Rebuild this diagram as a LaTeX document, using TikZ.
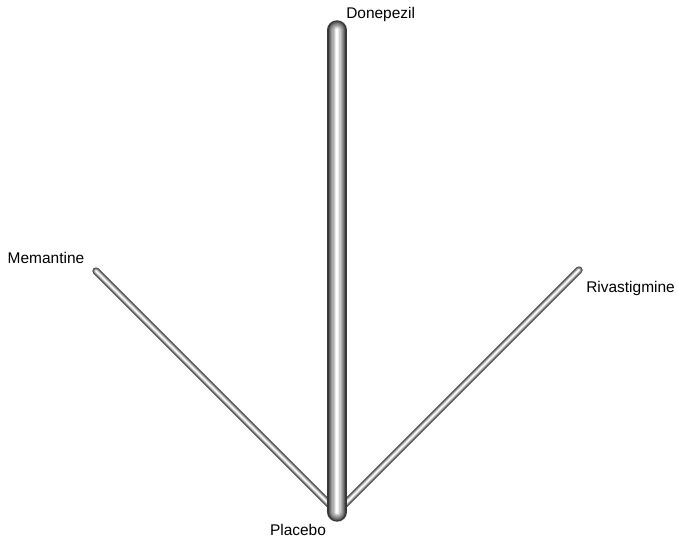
\documentclass[tikz,border=0pt]{standalone}
\usepackage{fontspec}
\setmainfont{Liberation Sans}
\usetikzlibrary{calc}

% one shaded tube between two named points, width in pt
\newcommand\tubeline[3]{%
    \foreach \s/\c in {1/22, 0.86/36, 0.72/48, 0.6/58, 0.48/68, 0.36/80, 0.24/92, 0.12/100}
        \draw[line cap=round, line width=\s*#3, white!\c!black] (#1) -- (#2);
}

\begin{document}
\begin{tikzpicture}[x=0.75pt, y=-0.75pt,
                    trt/.style={font=\fontsize{11.6}{13}\selectfont, inner sep=0pt}]

    \useasboundingbox (0,0) rectangle (678,541);

    \coordinate (pla) at (337,512);
    \coordinate (don) at (337,30);
    \coordinate (mem) at (96,271);
    \coordinate (riv) at (579,270);

    \tubeline{mem}{pla}{5.4pt}
    \tubeline{riv}{pla}{5.4pt}
    \tubeline{don}{pla}{14.6pt}

    \node[trt, anchor=west] (ldon) at (346,15)  {Donepezil};
    \node[trt]              (lmem) at (46,258)  {Memantine};
    \node[trt, anchor=west] (lriv) at (586,289) {Rivastigmine};
    \node[trt]              (lpla) at (298,530) {Placebo};
\end{tikzpicture}
\end{document}
